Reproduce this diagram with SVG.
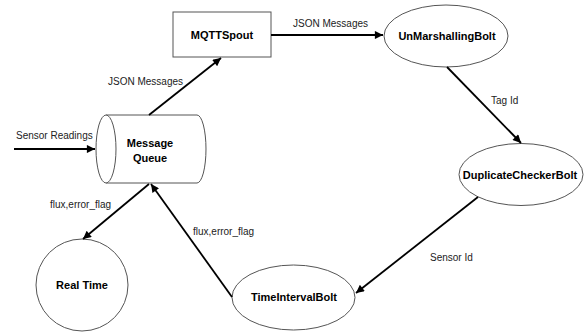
<svg xmlns="http://www.w3.org/2000/svg" width="585" height="333" viewBox="0 0 585 333">
<style>
.shape{fill:#fff;stroke:#555;stroke-width:1}
.edge{fill:none;stroke:#000;stroke-width:1.8;marker-end:url(#ah)}
.lbl{font-family:"Liberation Sans",Arial,sans-serif;font-size:10px;fill:#222}
.nl{font-family:"Liberation Sans",Arial,sans-serif;font-size:11px;font-weight:bold;fill:#000;text-anchor:middle}
</style>
<defs>
<marker id="ah" viewBox="0 0 10 10" refX="10" refY="5" markerWidth="5.5" markerHeight="4.5" orient="auto" markerUnits="strokeWidth">
<path d="M0,0 L10,5 L0,10 z" fill="#000"/>
</marker>
</defs>
<rect width="585" height="333" fill="#fff"/>
<g id="queue">
<path class="shape" d="M106,115 L197,115 A9,34 0 0 1 197,183 L106,183 A10,34 0 0 1 106,115 Z"/>
<path class="shape" fill="none" d="M106,115 A10,34 0 0 1 106,183"/>
<text class="nl" x="150" y="147">Message</text>
<text class="nl" x="150" y="162">Queue</text>
</g>
<g id="mqttspout">
<rect class="shape" x="173" y="12" width="98" height="45"/>
<text class="nl" x="222" y="39">MQTTSpout</text>
</g>
<g id="unmarshalling">
<ellipse class="shape" cx="446" cy="36" rx="62" ry="31"/>
<text class="nl" x="447" y="40">UnMarshallingBolt</text>
</g>
<g id="duplicate">
<ellipse class="shape" cx="521" cy="174.5" rx="62" ry="31"/>
<text class="nl" x="520" y="179">DuplicateCheckerBolt</text>
</g>
<g id="timeinterval">
<ellipse class="shape" cx="293.5" cy="297.5" rx="61.5" ry="32.5"/>
<text class="nl" x="294" y="301">TimeIntervalBolt</text>
</g>
<g id="realtime">
<circle class="shape" cx="82" cy="285" r="46"/>
<text class="nl" x="82" y="289">Real Time</text>
</g>
<g id="connectors">
<line class="edge" x1="14" y1="149" x2="95" y2="149"/>
<line class="edge" x1="149" y1="115" x2="221" y2="58"/>
<line class="edge" x1="271" y1="35" x2="383" y2="35"/>
<line class="edge" x1="447" y1="67" x2="521" y2="143"/>
<line class="edge" x1="478" y1="197" x2="356" y2="293"/>
<line class="edge" x1="232" y1="297" x2="151" y2="184"/>
<line class="edge" x1="149" y1="184" x2="83" y2="239"/>
<text class="lbl" x="16" y="139">Sensor Readings</text>
<text class="lbl" x="108" y="85">JSON Messages</text>
<text class="lbl" x="293" y="27">JSON Messages</text>
<text class="lbl" x="491" y="104">Tag Id</text>
<text class="lbl" x="430" y="261">Sensor Id</text>
<text class="lbl" x="193" y="235">flux,error_flag</text>
<text class="lbl" x="50" y="208">flux,error_flag</text>
</g>
</svg>
